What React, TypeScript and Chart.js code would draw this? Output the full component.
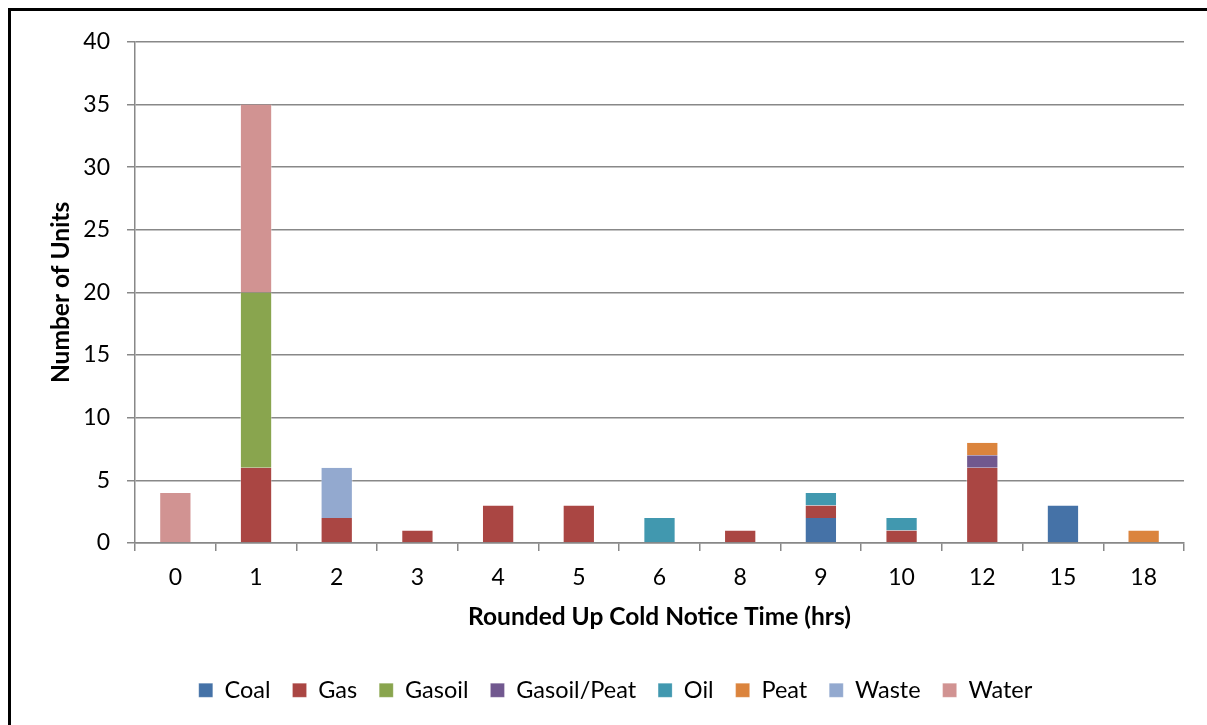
import React, { useEffect, useRef } from "react";
import { Chart, registerables } from "chart.js";

Chart.register(...registerables);

// Cold notice time buckets (hours, rounded up)
const categories = ["0", "1", "2", "3", "4", "5", "6", "8", "9", "10", "12", "15", "18"];

// Number of units per fuel type in each bucket
const coal = [null, null, null, null, null, null, null, null, 2, null, null, 3, null];
const gas = [null, 6, 2, 1, 3, 3, null, 1, 1, 1, 6, null, null];
const gasoil = [null, 14, null, null, null, null, null, null, null, null, null, null, null];
const gasoilPeat = [null, null, null, null, null, null, null, null, null, null, 1, null, null];
const oil = [null, null, null, null, null, null, 2, null, 1, 1, null, null, null];
const peat = [null, null, null, null, null, null, null, null, null, null, 1, null, 1];
const waste = [null, null, 4, null, null, null, null, null, null, null, null, null, null];
const water = [4, 15, null, null, null, null, null, null, null, null, null, null, null];

const seriesNames = ["Coal", "Gas", "Gasoil", "Gasoil/Peat", "Oil", "Peat", "Waste", "Water"];
const seriesValues = [coal, gas, gasoil, gasoilPeat, oil, peat, waste, water];
const seriesColors = ["#4572A7", "#AA4643", "#89A54E", "#71588F", "#4198AF", "#DB843D", "#93A9CF", "#D19392"];

const yTicks = { min: 0, max: 40, step: 5 };

const FONT = "Lato, 'Open Sans', sans-serif";
const GRID = "#888888";

export default function App() {
  const canvasRef = useRef<HTMLCanvasElement | null>(null);

  useEffect(() => {
    document.documentElement.style.overflow = "hidden";
    const canvas = canvasRef.current;
    if (!canvas) return;
    const chart = new Chart(canvas, {
      type: "bar",
      data: {
        labels: categories,
        datasets: seriesNames.map((name, i) => ({
          label: name,
          data: seriesValues[i],
          backgroundColor: seriesColors[i],
          borderColor: "rgba(255,255,255,0.4)",
          borderWidth: { left: 1, right: 1, top: 0, bottom: 0 },
          borderSkipped: false,
          barPercentage: 0.4,
          categoryPercentage: 1,
        })),
      },
      options: {
        responsive: false,
        animation: false,
        devicePixelRatio: 1,
        layout: { padding: { top: 28, right: 0, left: 0, bottom: 5 } },
        scales: {
          x: {
            stacked: true,
            grid: {
              offset: true,
              drawOnChartArea: false,
              drawTicks: true,
              tickLength: 8,
              color: GRID,
              lineWidth: 1.5,
            },
            border: { color: GRID, width: 1.5 },
            ticks: { color: "#000", font: { family: FONT, size: 23 }, padding: 13 },
            title: {
              display: true,
              text: "Rounded Up Cold Notice Time (hrs)",
              color: "#000",
              font: { family: FONT, size: 24.5, weight: "bold" },
              padding: { top: 0, bottom: 25 },
            },
            afterFit: (scale: any) => {
              scale.height = 113.5;
            },
          },
          y: {
            stacked: true,
            min: yTicks.min,
            max: yTicks.max,
            ticks: {
              stepSize: yTicks.step,
              color: "#000",
              font: { family: FONT, size: 23 },
              padding: 17,
            },
            grid: { color: GRID, lineWidth: 1.5, tickLength: 8 },
            border: { color: GRID, width: 1.5 },
            title: {
              display: true,
              text: "Number of Units",
              color: "#000",
              font: { family: FONT, size: 24.5, weight: "bold" },
              padding: { top: 35, bottom: 0 },
            },
            afterFit: (scale: any) => {
              scale.width = 124;
            },
          },
          // empty right-hand gutter between the plot and the frame edge
          gutter: {
            type: "linear",
            position: "right",
            display: true,
            ticks: { display: false },
            grid: { display: false, drawTicks: false },
            border: { display: false },
            afterFit: (scale: any) => {
              scale.width = 36;
            },
          },
        },
        plugins: {
          legend: {
            position: "bottom",
            labels: {
              boxWidth: 14,
              boxHeight: 14,
              color: "#000",
              font: { family: FONT, size: 23.5 },
              padding: 22,
            },
          },
          tooltip: { enabled: false },
        },
      },
    });
    return () => chart.destroy();
  }, []);

  return (
    <div
      style={{
        position: "fixed",
        left: 8,
        top: 8,
        width: 1240,
        height: 760,
        borderTop: "3px solid #000",
        borderLeft: "3px solid #000",
        background: "#fff",
      }}
    >
      <canvas ref={canvasRef} width={1209} height={706} style={{ display: "block" }} />
    </div>
  );
}
